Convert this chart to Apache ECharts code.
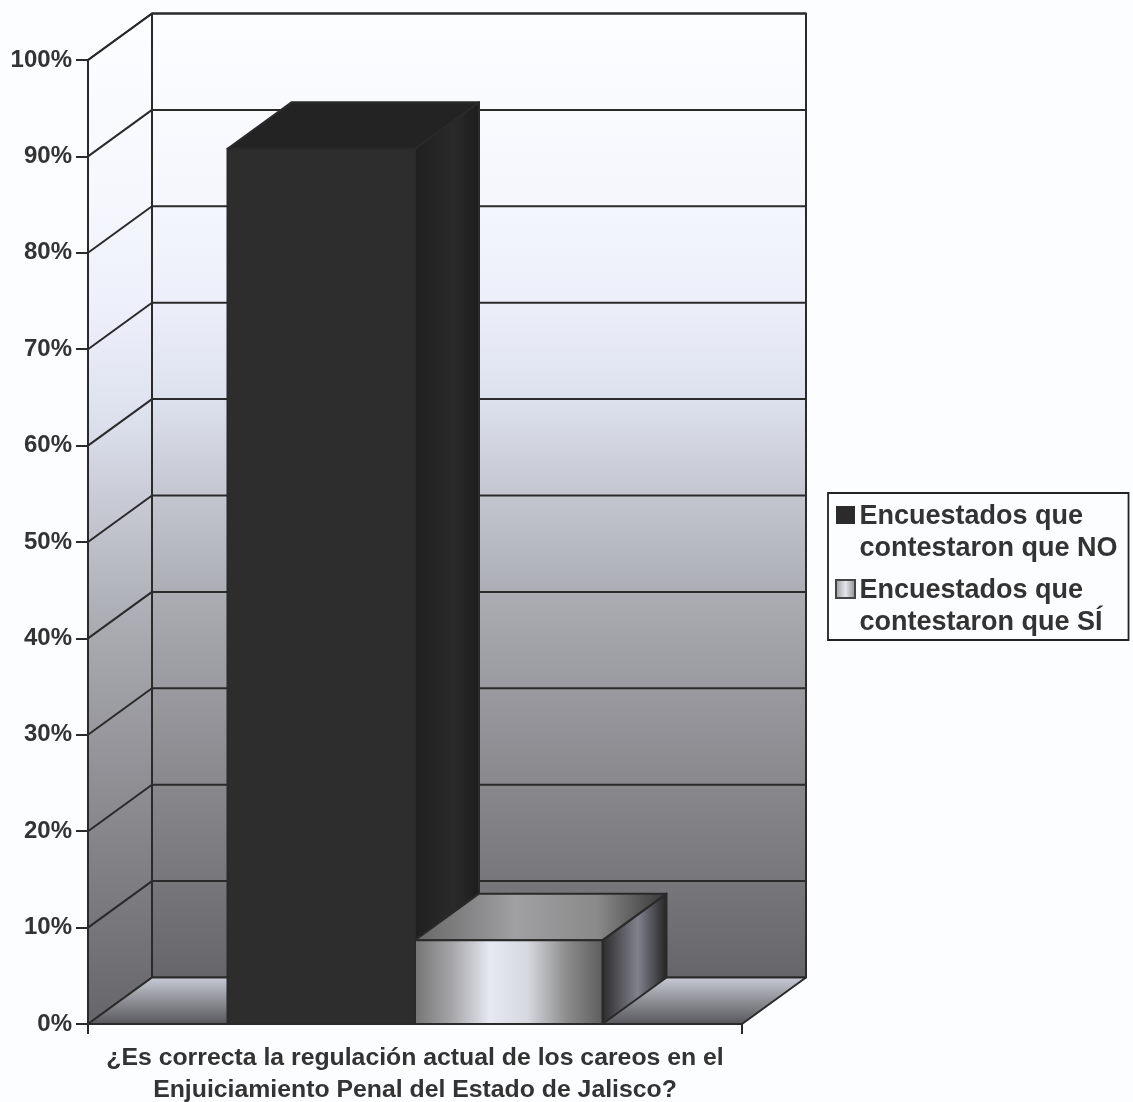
<!DOCTYPE html>
<html><head><meta charset="utf-8">
<style>html,body{margin:0;padding:0;background:#fcfdff}#c{width:1133px;height:1102px}</style>
<script src="https://cdn.jsdelivr.net/npm/echarts@6/dist/echarts.min.js"></script>
</head><body><div id="c"></div>
<script>
const categories = ['¿Es correcta la regulación actual de los careos en el\nEnjuiciamiento Penal del Estado de Jalisco?'];
const valueTicks = [0,10,20,30,40,50,60,70,80,90,100];
const noName = 'Encuestados que\ncontestaron que NO';
const siName = 'Encuestados que\ncontestaron que SÍ';
const noValues = [90.8];
const siValues = [8.7];

const DX = 64, DY = -46.5, BAR_FRAC = 0.2867;
const LINE = '#2a2a2a';
const vgrad = stops => ({type:'linear',x:0,y:0,x2:0,y2:1,colorStops:stops.map(s=>({offset:s[0],color:s[1]}))});
const hgrad = stops => ({type:'linear',x:0,y:0,x2:1,y2:0,colorStops:stops.map(s=>({offset:s[0],color:s[1]}))});
const wallStops = [[0,'#fcfdff'],[0.19,'#f5f7fd'],[0.3,'#eceffa'],[0.4,'#dde1ee'],[0.505,'#c2c5ce'],[0.61,'#a9abb1'],[0.71,'#98989e'],[0.815,'#85858a'],[0.92,'#747478'],[1,'#66666a']];
const siFront = hgrad([[0,'#747474'],[0.2,'#a5a5a8'],[0.4,'#e6e9f2'],[0.6,'#d6d8e0'],[0.8,'#8e8e8e'],[1,'#5c5c5c']]);
const siTop = hgrad([[0,'#666666'],[0.4,'#a0a0a3'],[0.72,'#8a8a8a'],[1,'#363636']]);
const siSide = hgrad([[0,'#2a2a2a'],[0.55,'#80818c'],[1,'#222222']]);
const poly = (points, fill, stroke) => ({type:'polygon',shape:{points},style:{fill,stroke:stroke||LINE,lineWidth:2,lineJoin:'round'}});
const line = (x1,y1,x2,y2) => ({type:'line',shape:{x1,y1,x2,y2},style:{stroke:LINE,lineWidth:2}});

function renderWalls(params, api){
  const v = api.value(0);
  const cs = params.coordSys;
  const xl = cs.x, xr = cs.x + cs.width;
  const y = api.coord([0, v])[1];
  const kids = [];
  if (params.dataIndex === 0){
    const y0 = api.coord([0, 0])[1], yt = api.coord([0, 100])[1];
    kids.push(poly([[xl,y0],[xl+DX,y0+DY],[xl+DX,yt+DY],[xl,yt]], vgrad(wallStops)));
    kids.push(poly([[xl+DX,y0+DY],[xr+DX,y0+DY],[xr+DX,yt+DY],[xl+DX,yt+DY]], vgrad(wallStops)));
    kids.push(poly([[xl,y0],[xr,y0],[xr+DX,y0+DY],[xl+DX,y0+DY]], vgrad([[0,'#c9cdd9'],[0.5,'#8f9096'],[1,'#55555a']])));
  }
  if (v > 0) kids.push(line(xl,y,xl+DX,y+DY), line(xl+DX,y+DY,xr+DX,y+DY));
  return {type:'group',children:kids};
}
function renderBar(side, front, top, right){
  return function(params, api){
    const p = api.coord([api.value(0), api.value(1)]);
    const y0 = api.coord([api.value(0), 0])[1];
    const w = api.size([1,0])[0] * BAR_FRAC;
    const x1 = side < 0 ? p[0]-w : p[0], x2 = x1 + w, y = p[1];
    return {type:'group',children:[
      poly([[x2,y],[x2+DX,y+DY],[x2+DX,y0+DY],[x2,y0]], right),
      poly([[x1,y],[x2,y],[x2+DX,y+DY],[x1+DX,y+DY]], top),
      poly([[x1,y],[x2,y],[x2,y0],[x1,y0]], front)
    ]};
  };
}
const iconPath = 'path://M0 5H19V23H0ZM0 0L0 0M0 64L0 64';
const chart = echarts.init(document.getElementById('c'), null, {renderer:'canvas'});
chart.setOption({
  animation:false,
  backgroundColor:'#fcfdff',
  textStyle:{fontFamily:'Liberation Sans'},
  grid:{left:88,right:391,top:60,bottom:78,outerBoundsMode:'none'},
  legend:{
    orient:'vertical',left:828,top:493,
    padding:[8,11,0,7],itemGap:9,itemWidth:20,itemHeight:64,
    borderColor:'#222',borderWidth:1.8,
    textStyle:{fontFamily:'Liberation Sans',fontWeight:'bold',fontSize:27,lineHeight:32,color:'#333',padding:[0,0,0,-1]},
    data:[
      {name:noName,icon:iconPath,itemStyle:{color:'#2b2b2b',borderWidth:0}},
      {name:siName,icon:iconPath,itemStyle:{color:hgrad([[0,'#999'],[0.5,'#e4e6ee'],[1,'#888']]),borderColor:'#444',borderWidth:2}}
    ]
  },
  xAxis:{
    type:'category',data:categories,z:10,
    axisLine:{lineStyle:{color:LINE,width:2}},
    axisTick:{show:true,length:10,lineStyle:{color:LINE,width:2}},
    axisLabel:{interval:0,margin:18,color:'#333',fontWeight:'bold',fontSize:24.8,lineHeight:32,fontFamily:'Liberation Sans'}
  },
  yAxis:{
    type:'value',min:0,max:100,interval:10,z:10,
    axisLine:{show:true,lineStyle:{color:LINE,width:2}},
    axisTick:{show:true,length:12,lineStyle:{color:LINE,width:2}},
    splitLine:{show:false},
    axisLabel:{formatter:'{value}%',margin:16,color:'#333',fontWeight:'bold',fontSize:24,fontFamily:'Liberation Sans'}
  },
  series:[
    {name:'walls',type:'custom',z:1,silent:true,data:valueTicks.map(v=>[v]),encode:{y:0},renderItem:renderWalls},
    {name:noName,type:'custom',z:2,silent:true,itemStyle:{color:'#2b2b2b'},encode:{x:0,y:1},
      data:noValues.map((v,i)=>[i,v]),renderItem:renderBar(-1,'#2d2d2d','#232323',hgrad([[0,'#1f1f1f'],[0.6,'#2a2a2a'],[1,'#1c1c1c']]))},
    {name:siName,type:'custom',z:3,silent:true,itemStyle:{color:'#cccccc'},encode:{x:0,y:1},
      data:siValues.map((v,i)=>[i,v]),renderItem:renderBar(1,siFront,siTop,siSide)}
  ]
});
</script></body></html>
